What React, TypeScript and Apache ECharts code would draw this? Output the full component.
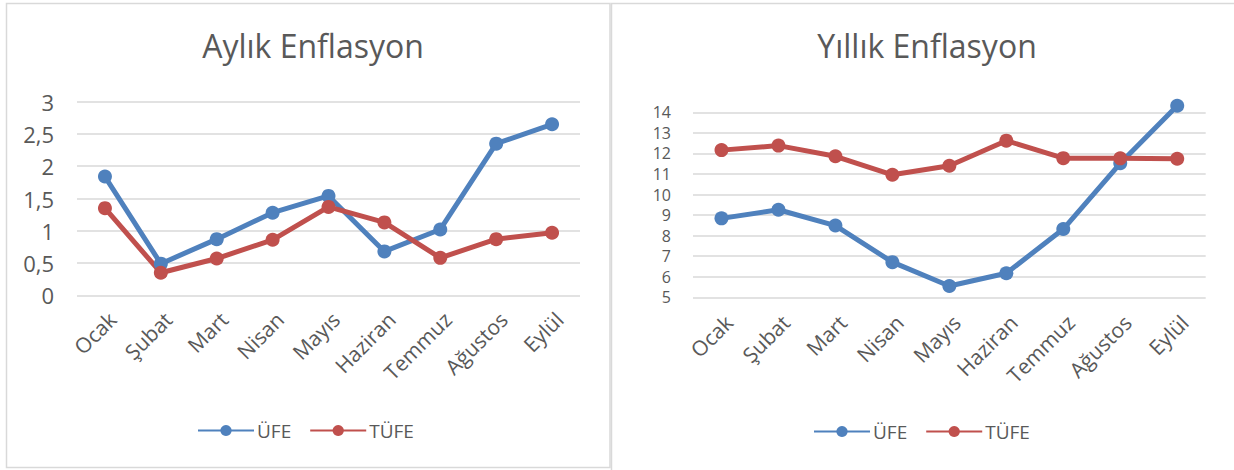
import React, { useEffect, useRef } from "react";
import * as echarts from "echarts";

const months = ["Ocak", "Şubat", "Mart", "Nisan", "Mayıs", "Haziran", "Temmuz", "Ağustos", "Eylül"];
const aylikUfe = [1.84, 0.49, 0.87, 1.28, 1.54, 0.68, 1.02, 2.35, 2.65];
const aylikTufe = [1.35, 0.35, 0.57, 0.86, 1.37, 1.13, 0.58, 0.87, 0.97];
const yillikUfe = [8.84, 9.26, 8.49, 6.71, 5.55, 6.17, 8.32, 11.52, 14.32];
const yillikTufe = [12.16, 12.38, 11.86, 10.96, 11.4, 12.62, 11.77, 11.76, 11.74];
const seriesNames = ["ÜFE", "TÜFE"];
const titles = ["Aylık Enflasyon", "Yıllık Enflasyon"];

const BLUE = "#4F81BD";
const RED = "#C0504D";
const TXT = "#595959";
const GRID = "#d9d9d9";
const FONT = "'Open Sans', sans-serif";

export default function App() {
  const ref = useRef<HTMLDivElement>(null);
  useEffect(() => {
    if (!ref.current) return;
    const chart = echarts.init(ref.current, undefined, { renderer: "svg" });
    const comma = (v: number) => String(v).replace(".", ",");
    const xAxisBase = {
      type: "category" as const,
      data: months,
      boundaryGap: true,
      axisLine: { show: false },
      axisTick: { show: false },
      axisLabel: {
        rotate: 45, color: TXT, fontSize: 21, fontFamily: FONT, margin: 13, interval: 0,
        align: "right", verticalAlign: "top",
      },
    };
    const lineSeries = (name: string, data: number[], color: string, idx: number) => ({
      type: "line" as const,
      name,
      data,
      xAxisIndex: idx,
      yAxisIndex: idx,
      symbol: "circle",
      symbolSize: 14,
      showAllSymbol: true,
      clip: false,
      lineStyle: { color, width: 5 },
      itemStyle: { color },
      emphasis: { disabled: true },
    });
    const legendBase = {
      data: seriesNames,
      itemWidth: 56,
      itemHeight: 14,
      itemGap: 18,
      textStyle: { color: TXT, fontSize: 19, fontFamily: FONT, padding: [0, 0, 0, -2] },
      selectedMode: false,
    };
    chart.setOption({
      animation: false,
      backgroundColor: "#ffffff",
      graphic: [
        { type: "rect", shape: { x: 6.5, y: 3.5, width: 603.5, height: 464 }, style: { fill: "none", stroke: GRID, lineWidth: 1.5 } },
        { type: "rect", shape: { x: 611.5, y: 3.5, width: 640, height: 480 }, style: { fill: "none", stroke: GRID, lineWidth: 1.5 } },
      ],
      title: [
        { text: titles[0], left: 308, top: 24, textAlign: "center", textStyle: { color: TXT, fontSize: 32, fontWeight: "normal", fontFamily: FONT } },
        { text: titles[1], left: 922, top: 24, textAlign: "center", textStyle: { color: TXT, fontSize: 32, fontWeight: "normal", fontFamily: FONT } },
      ],
      legend: [
        { ...legendBase, left: 192, top: 416 },
        { ...legendBase, left: 808, top: 417 },
      ],
      grid: [
        { left: 77, top: 101.7, width: 503, height: 193.6 },
        { left: 693, top: 112.3, width: 512.7, height: 185 },
      ],
      xAxis: [
        { ...xAxisBase, gridIndex: 0 },
        { ...xAxisBase, gridIndex: 1, axisLabel: { ...xAxisBase.axisLabel, margin: 14 } },
      ],
      yAxis: [
        {
          type: "value", gridIndex: 0, min: 0, max: 3, interval: 0.5,
          axisLine: { show: false }, axisTick: { show: false },
          axisLabel: { color: TXT, fontSize: 22, fontFamily: FONT, margin: 23, formatter: comma },
          splitLine: { lineStyle: { color: GRID, width: 1.5 } },
        },
        {
          type: "value", gridIndex: 1, min: 5, max: 14, interval: 1,
          axisLine: { show: false }, axisTick: { show: false },
          axisLabel: { color: TXT, fontSize: 16, lineHeight: 16, fontFamily: FONT, margin: 22, formatter: comma },
          splitLine: { lineStyle: { color: GRID, width: 1.5 } },
        },
      ],
      series: [
        lineSeries(seriesNames[0], aylikUfe, BLUE, 0),
        lineSeries(seriesNames[1], aylikTufe, RED, 0),
        lineSeries(seriesNames[0], yillikUfe, BLUE, 1),
        lineSeries(seriesNames[1], yillikTufe, RED, 1),
      ],
    });
    return () => chart.dispose();
  }, []);
  return <div ref={ref} style={{ position: "absolute", left: 0, top: 0, width: 1234, height: 470 }} />;
}
